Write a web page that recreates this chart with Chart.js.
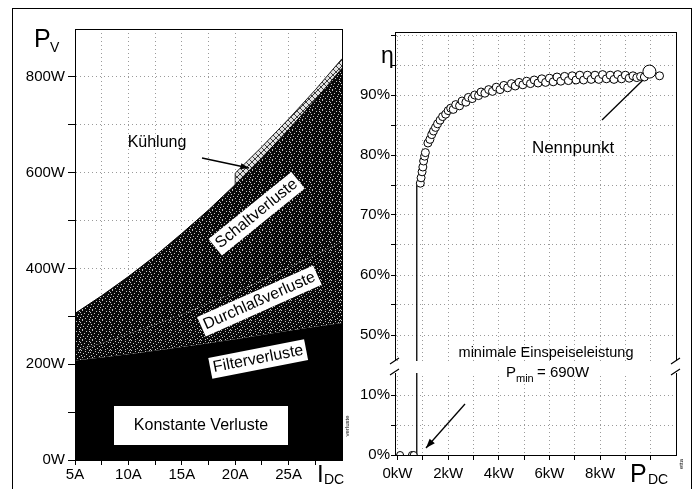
<!DOCTYPE html>
<html>
<head>
<meta charset="utf-8">
<script src="https://cdn.jsdelivr.net/npm/chart.js@4.4.0/dist/chart.umd.min.js"></script>
<style>
body { margin: 0; background: #fff; }
#wrap { position: relative; width: 696px; height: 497px; overflow: hidden; }
#frame { position: absolute; left: 12px; top: 8px; width: 678px; height: 480px; border: 1px solid #000; border-bottom: none; }
canvas { position: absolute; top: 0; }
#cLeft { left: 0; }
#cRight { left: 352px; }
</style>
</head>
<body>
<div id="wrap">
  <div id="frame"></div>
  <canvas id="cLeft" width="352" height="497"></canvas>
  <canvas id="cRight" width="344" height="497"></canvas>
</div>
<script>
// Left panel: losses vs. DC current (W per layer)
const I_DC = [5, 7.5, 10, 12.5, 15, 17.5, 20, 22.5, 25, 27.5, 30];
const konstante = [200, 200, 200, 200, 200, 200, 200, 200, 200, 200, 200];
const filter = [8, 14, 21, 28, 36, 44, 52, 61, 70, 78, 86];
const durchlass = [20, 30, 42, 55, 68, 83, 98, 114, 132, 150, 170];
const schalt = [78, 99, 120, 143, 169, 195, 225, 256, 288, 324, 362];
const I_kuehl = [20, 22.5, 25, 27.5, 30];
const kuehlung = [24, 23, 22, 21, 20];

// Right panel: efficiency vs. DC power (kW, %)
const P_off = [0.1, 0.57, 0.64];
const eta_off = [0, 0, 0];
const P_DC = [0.9, 0.93, 0.97, 1.0, 1.03, 1.07, 1.1, 1.2, 1.28, 1.35, 1.42, 1.5, 1.58, 1.68, 1.78, 1.9, 2.0,
  2.1, 2.2, 2.3, 2.45, 2.55, 2.7, 2.8, 2.95, 3.05, 3.2, 3.3, 3.45, 3.6, 3.75, 3.9, 4.05, 4.2, 4.35, 4.5, 4.65,
  4.8, 4.95, 5.1, 5.25, 5.4, 5.55, 5.7, 5.85, 6.0, 6.15, 6.3, 6.45, 6.6, 6.75, 6.9, 7.05, 7.2, 7.35, 7.5, 7.65,
  7.8, 7.95, 8.1, 8.25, 8.4, 8.55, 8.7, 8.85, 9.0, 9.15, 9.3, 9.45, 9.6, 9.75, 10.35];
const eta = [75.3, 76.2, 77.2, 78.0, 79.0, 79.8, 80.4, 82.0, 82.6, 83.4, 84.0, 84.6, 85.2, 85.8, 86.4, 86.8, 87.4,
  87.8, 87.6, 88.4, 88.2, 89.0, 88.8, 89.6, 89.4, 90.0, 89.9, 90.5, 90.3, 90.9, 90.6, 91.3, 90.9, 91.6, 91.2, 91.9, 91.5,
  92.1, 91.7, 92.3, 91.9, 92.5, 92.0, 92.7, 92.1, 92.8, 92.2, 93.0, 92.3, 93.1, 92.4, 93.2, 92.5, 93.3, 92.5, 93.3, 92.6,
  93.3, 92.6, 93.4, 92.7, 93.3, 92.6, 93.4, 92.7, 93.3, 92.8, 93.2, 92.9, 93.1, 93.0, 93.2];
const P_nenn = [9.95];
const eta_nenn = [93.9];
const P_step = [0.64, 0.76, 0.76, 0.9];
const eta_step = [0, 0, 75.3, 75.3];

const FONT = '"Liberation Sans", Arial, Helvetica, sans-serif';
Chart.defaults.font.family = FONT;
Chart.defaults.font.size = 15;
Chart.defaults.color = '#000';

const GRID = '#9a9a9a';

function pattern(bits, bg, fg) {
    const n = bits.length;
    const c = document.createElement('canvas');
    c.width = c.height = n;
    const g = c.getContext('2d');
    g.fillStyle = bg;
    g.fillRect(0, 0, n, n);
    g.fillStyle = fg;
    bits.forEach((row, y) => [...row].forEach((b, x) => { if (b === '1') g.fillRect(x, y, 1, 1); }));
    return g.createPattern(c, 'repeat');
}

const patDurch = pattern([
    '0100000001', '0000010000', '1000000010', '0001000000', '0000001000',
    '0100000000', '0000100001', '0010000000', '0000000100', '1000010000'], '#080808', '#c4c4c4');
const patSchalt = pattern([
    '0010000000', '0000001001', '1000000000', '0000100000', '0100000010',
    '0000000000', '0001000100', '1000000000', '0000010000', '0010000001'], '#0a0a0a', '#c4c4c4');
const patKuehl = pattern(['100001', '010010', '001100', '001100', '010010', '100001'], '#e2e2e2', '#3a3a3a');

const xy = (xs, ys) => xs.map((x, i) => ({ x: x, y: ys[i] }));
const cum = (...parts) => I_DC.map((_, i) => parts.reduce((s, p) => s + p[i], 0));

const topKonst = cum(konstante);
const topFilter = cum(konstante, filter);
const topDurch = cum(konstante, filter, durchlass);
const topSchalt = cum(konstante, filter, durchlass, schalt);
const kuehlTop = I_kuehl.map((x, i) => topSchalt[I_DC.indexOf(x)] + kuehlung[i]);
const kuehlData = [{ x: I_kuehl[0], y: topSchalt[I_DC.indexOf(I_kuehl[0])] }].concat(xy(I_kuehl, kuehlTop));

// broken axis: 0..15 % kept, 45..100 % shifted down by 30
const brk = v => (v <= 15 ? v : v - 30);
const unbrk = d => (d < 15 ? d : d + 30);
const xyb = (xs, ys) => xs.map((x, i) => ({ x: x, y: brk(ys[i]) }));

function text(ctx, s, x, y, size, align, base) {
    ctx.font = size + 'px ' + FONT;
    ctx.textAlign = align || 'left';
    ctx.textBaseline = base || 'alphabetic';
    ctx.fillStyle = '#000';
    ctx.fillText(s, x, y);
}

function boxLabel(ctx, s, x, y, angle, size, pad) {
    ctx.save();
    ctx.translate(x, y);
    ctx.rotate(angle * Math.PI / 180);
    ctx.font = size + 'px ' + FONT;
    const w = ctx.measureText(s).width;
    const h = size * 0.95;
    ctx.fillStyle = '#fff';
    ctx.fillRect(-w / 2 - pad, -h / 2 - pad + 1, w + 2 * pad, h + 2 * pad);
    ctx.fillStyle = '#000';
    ctx.textAlign = 'center';
    ctx.textBaseline = 'middle';
    ctx.fillText(s, 0, 1);
    ctx.restore();
}

function arrow(ctx, x1, y1, x2, y2, head) {
    ctx.save();
    ctx.strokeStyle = '#000';
    ctx.fillStyle = '#000';
    ctx.lineWidth = 1.3;
    ctx.beginPath();
    ctx.moveTo(x1, y1);
    ctx.lineTo(x2, y2);
    ctx.stroke();
    if (head) {
        const a = Math.atan2(y2 - y1, x2 - x1);
        ctx.beginPath();
        ctx.moveTo(x2, y2);
        ctx.lineTo(x2 - head * Math.cos(a - 0.35), y2 - head * Math.sin(a - 0.35));
        ctx.lineTo(x2 - head * Math.cos(a + 0.35), y2 - head * Math.sin(a + 0.35));
        ctx.closePath();
        ctx.fill();
    }
    ctx.restore();
}

function tiny(ctx, s, x, y) {
    ctx.save();
    ctx.translate(x, y);
    ctx.rotate(-Math.PI / 2);
    text(ctx, s, 0, 0, 6, 'center', 'middle');
    ctx.restore();
}

const plotBox = {
    id: 'plotBox',
    afterDatasetsDraw(chart) {
        const a = chart.chartArea, ctx = chart.ctx;
        ctx.save();
        ctx.strokeStyle = '#000';
        ctx.lineWidth = 1;
        ctx.strokeRect(Math.round(a.left) + 0.5, Math.round(a.top) + 0.5, Math.round(a.right - a.left), Math.round(a.bottom - a.top));
        ctx.restore();
    }
};

const gridOpts = { color: GRID, tickColor: '#000', tickLength: 5 };
const borderOpts = { color: '#000', width: 1, dash: [1, 3] };

// ---------- left chart ----------
const leftNotes = {
    id: 'leftNotes',
    afterDraw(chart) {
        const ctx = chart.ctx;
        text(ctx, 'P', 34, 47, 25);
        text(ctx, 'V', 50, 52, 14);
        text(ctx, 'I', 317, 482, 24);
        text(ctx, 'DC', 324, 484, 14);

        text(ctx, 'Kühlung', 157, 143, 16, 'center', 'middle');
        arrow(ctx, 202, 158, 249, 168, 9);

        boxLabel(ctx, 'Schaltverluste', 256, 213, -39, 16, 3);
        boxLabel(ctx, 'Durchlaßverluste', 259, 300, -24, 16, 3);
        boxLabel(ctx, 'Filterverluste', 258, 358, -11, 16, 3);

        ctx.fillStyle = '#fff';
        ctx.fillRect(114, 406, 174, 39);
        text(ctx, 'Konstante Verluste', 201, 426, 16, 'center', 'middle');

        tiny(ctx, 'verluste', 347, 426);
    }
};

new Chart(document.getElementById('cLeft'), {
    type: 'line',
    data: {
        datasets: [
            { data: xy(I_DC, topKonst), fill: 'origin', backgroundColor: '#000', borderWidth: 0, pointRadius: 0 },
            // Filter band is black like the constant losses; filling it down to the origin avoids a seam at 200 W
            { data: xy(I_DC, topFilter), fill: 'origin', backgroundColor: '#000', borderWidth: 0, pointRadius: 0 },
            { data: xy(I_DC, topDurch), fill: '-1', backgroundColor: patDurch, borderWidth: 0, pointRadius: 0 },
            { data: xy(I_DC, topSchalt), fill: '-1', backgroundColor: patSchalt, borderColor: '#000', borderWidth: 1, pointRadius: 0 },
            { data: kuehlData, fill: 3, backgroundColor: patKuehl, borderColor: '#222', borderWidth: 1, pointRadius: 0 }
        ]
    },
    options: {
        responsive: false,
        animation: false,
        events: [],
        layout: { padding: { top: 29, right: 10, left: 0, bottom: 0 } },
        plugins: { legend: { display: false }, tooltip: { enabled: false } },
        scales: {
            x: {
                type: 'linear', min: 5, max: 30,
                afterBuildTicks: s => { s.ticks = []; for (let v = 5; v <= 27.5; v += 2.5) s.ticks.push({ value: v }); },
                afterFit: s => { s.height = 37; },
                ticks: { autoSkip: false, maxRotation: 0, padding: 1, callback: v => (v % 5 === 0 && v <= 25) ? v + 'A' : '' },
                grid: gridOpts,
                border: borderOpts
            },
            y: {
                min: 0, max: 900,
                afterBuildTicks: s => { s.ticks = []; for (let v = 0; v <= 800; v += 100) s.ticks.push({ value: v }); },
                afterFit: s => { s.width = 75; },
                ticks: { autoSkip: false, padding: 3, callback: v => v % 200 === 0 ? v + 'W' : '' },
                grid: { color: GRID, tickColor: '#000', tickLength: 7 },
                border: borderOpts
            }
        }
    },
    plugins: [plotBox, leftNotes]
});

// ---------- right chart ----------
const rightNotes = {
    id: 'rightNotes',
    afterDraw(chart) {
        const ctx = chart.ctx, a = chart.chartArea;
        const yb = chart.scales.y.getPixelForValue(15) + 2;
        ctx.fillStyle = '#fff';
        ctx.fillRect(a.left - 7, yb - 6, a.right - a.left + 14, 12);
        ctx.strokeStyle = '#000';
        ctx.lineWidth = 1.2;
        [a.left, a.right].forEach(x => {
            ctx.beginPath();
            ctx.moveTo(x - 5, yb - 3); ctx.lineTo(x + 4, yb - 9);
            ctx.moveTo(x - 5, yb + 8); ctx.lineTo(x + 4, yb + 2);
            ctx.stroke();
        });

        text(ctx, 'η', 29, 63, 23);
        text(ctx, 'P', 278, 482, 25);
        text(ctx, 'DC', 296, 484, 14);

        text(ctx, 'Nennpunkt', 221, 148, 17, 'center', 'middle');
        arrow(ctx, 250, 120, 291, 80, 0);

        text(ctx, 'minimale Einspeiseleistung', 194, 353, 14.5, 'center', 'middle');
        text(ctx, 'P', 154, 377, 15);
        text(ctx, 'min', 164, 382, 11);
        text(ctx, '= 690W', 185, 377, 15);
        arrow(ctx, 113, 404, 74, 448, 10);

        tiny(ctx, 'etta', 329, 464);
    }
};

const ringStyle = { pointBackgroundColor: '#fff', pointBorderColor: '#000', pointBorderWidth: 1, showLine: false };

new Chart(document.getElementById('cRight'), {
    type: 'scatter',
    data: {
        datasets: [
            Object.assign({ data: xyb(P_nenn, eta_nenn), pointRadius: 6.5 }, ringStyle),
            Object.assign({ data: xyb(P_DC, eta), pointRadius: 4 }, ringStyle),
            Object.assign({ data: xyb(P_off, eta_off), pointRadius: 3.5 }, ringStyle),
            { data: xyb(P_step, eta_step), showLine: true, pointRadius: 0, borderColor: '#000', borderWidth: 1.3 }
        ]
    },
    options: {
        responsive: false,
        animation: false,
        events: [],
        layout: { padding: { top: 32, right: 20, left: 0, bottom: 0 } },
        plugins: { legend: { display: false }, tooltip: { enabled: false } },
        scales: {
            x: {
                type: 'linear', min: -0.1, max: 11,
                afterBuildTicks: s => { s.ticks = []; for (let v = 0; v <= 10; v++) s.ticks.push({ value: v }); },
                afterFit: s => { s.height = 42; },
                ticks: { autoSkip: false, maxRotation: 0, padding: 5, callback: v => (v % 2 === 0 && v <= 8) ? v + 'kW' : '' },
                grid: gridOpts,
                border: borderOpts
            },
            y: {
                min: 0, max: 70.5,
                afterBuildTicks: s => { s.ticks = []; for (let v = 0; v <= 70; v += 5) s.ticks.push({ value: v }); },
                afterFit: s => { s.width = 43; },
                ticks: {
                    autoSkip: false, padding: 1,
                    callback: d => {
                        if (d === 15 || d === 70) return '';
                        const r = unbrk(d);
                        return r % 10 === 0 ? r + '%' : '';
                    }
                },
                grid: {
                    color: c => (c.tick && c.tick.value === 15) ? 'rgba(0,0,0,0)' : GRID,
                    tickColor: c => (c.tick && c.tick.value === 15) ? 'rgba(0,0,0,0)' : '#000',
                    tickLength: 4
                },
                border: borderOpts
            }
        }
    },
    plugins: [plotBox, rightNotes]
});
</script>
</body>
</html>
